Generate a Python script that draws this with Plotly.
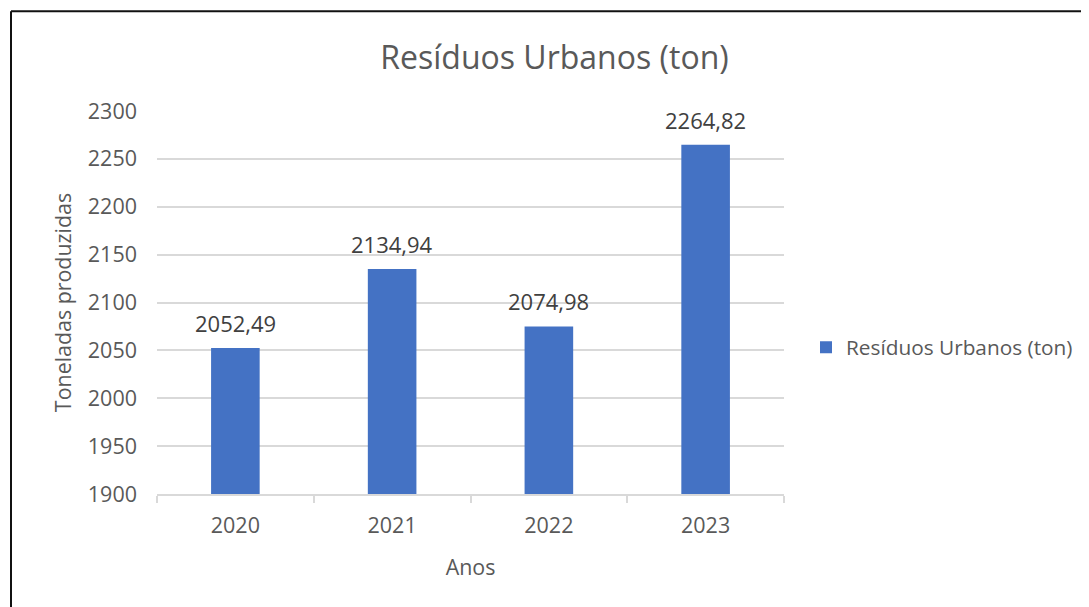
import plotly.graph_objects as go

# ---- data ----
anos = ["2020", "2021", "2022", "2023"]
residuos = [2052.49, 2134.94, 2074.98, 2264.82]
serie_nome = "Resíduos Urbanos (ton)"
titulo = "Resíduos Urbanos (ton)"
eixo_x_titulo = "Anos"
eixo_y_titulo = "Toneladas produzidas"
y_ticks = [1900, 1950, 2000, 2050, 2100, 2150, 2200, 2250, 2300]

OFF = 8  # page body offset
W, H = 1089 - OFF, 607 - OFF
L, R, T, B = 157 - OFF, 784 - OFF, 111 - OFF, 494.5 - OFF  # plot area in figure px

FONT = "Open Sans"
GRAY = "#595959"
BAR = "#4472C4"

fig = go.Figure()
fig.add_trace(go.Bar(
    x=anos, y=residuos, name=serie_nome,
    marker=dict(color=BAR, line=dict(width=0)),
    showlegend=True,
))

# data labels (category index positions on the category axis)
for i, v in enumerate(residuos):
    fig.add_annotation(
        x=i, y=v, xref="x", yref="y",
        text=f"{v:.2f}".replace(".", ","),
        showarrow=False, yanchor="bottom", yshift=8,
        font=dict(family=FONT, size=22, color="#404040"),
    )

def px_x(p):
    return (p - L) / (R - L)

def px_y(p):
    return (B - p) / (B - T)

# chart border (left + top visible)
bx, by = 11 - OFF, 11 - OFF
fig.add_shape(type="line", xref="paper", yref="paper",
              x0=px_x(bx), x1=px_x(bx), y0=px_y(H + 5), y1=px_y(by),
              line=dict(color="#111111", width=2), layer="above")
fig.add_shape(type="line", xref="paper", yref="paper",
              x0=px_x(bx), x1=px_x(W + 5), y0=px_y(by), y1=px_y(by),
              line=dict(color="#111111", width=2), layer="above")

fig.update_layout(
    width=W, height=H,
    margin=dict(l=L, r=W - R, t=T, b=H - B, autoexpand=False),
    paper_bgcolor="white", plot_bgcolor="white",
    separators=",.",
    bargap=0.69,
    font=dict(family=FONT, color=GRAY, size=21),
    title=dict(text=titulo, x=(554.5 - OFF) / W, xanchor="center", xref="container",
               y=1 - (58 - OFF) / H, yanchor="middle", yref="container",
               font=dict(family=FONT, size=32, color=GRAY)),
    legend=dict(x=px_x(806 - OFF), xanchor="left", y=px_y(348 - OFF), yanchor="middle",
                font=dict(family=FONT, size=20.8, color=GRAY),
                bgcolor="rgba(0,0,0,0)"),
    xaxis=dict(
        type="category", range=[-0.5, 3.5], autorange=False,
        showgrid=False, showline=True, linecolor="#d9d9d9", linewidth=1.5,
        ticks="outside", tickson="boundaries", ticklen=7, tickcolor="#d9d9d9", tickwidth=1.5,
        tickfont=dict(family=FONT, size=21.5, color=GRAY),
        ticklabelstandoff=11,
        title=dict(text=eixo_x_titulo, font=dict(family=FONT, size=21.4, color=GRAY), standoff=22),
        fixedrange=True,
    ),
    yaxis=dict(
        range=[1900, 2300], autorange=False, tickvals=y_ticks,
        showgrid=True, gridcolor="#d9d9d9", gridwidth=1.5,
        showline=False, zeroline=False, ticks="",
        tickfont=dict(family=FONT, size=21.5, color=GRAY),
        ticklabelstandoff=19,
        title=dict(text=eixo_y_titulo, font=dict(family=FONT, size=21.4, color=GRAY), standoff=10),
        fixedrange=True,
    ),
)

fig.write_html("out.html")
